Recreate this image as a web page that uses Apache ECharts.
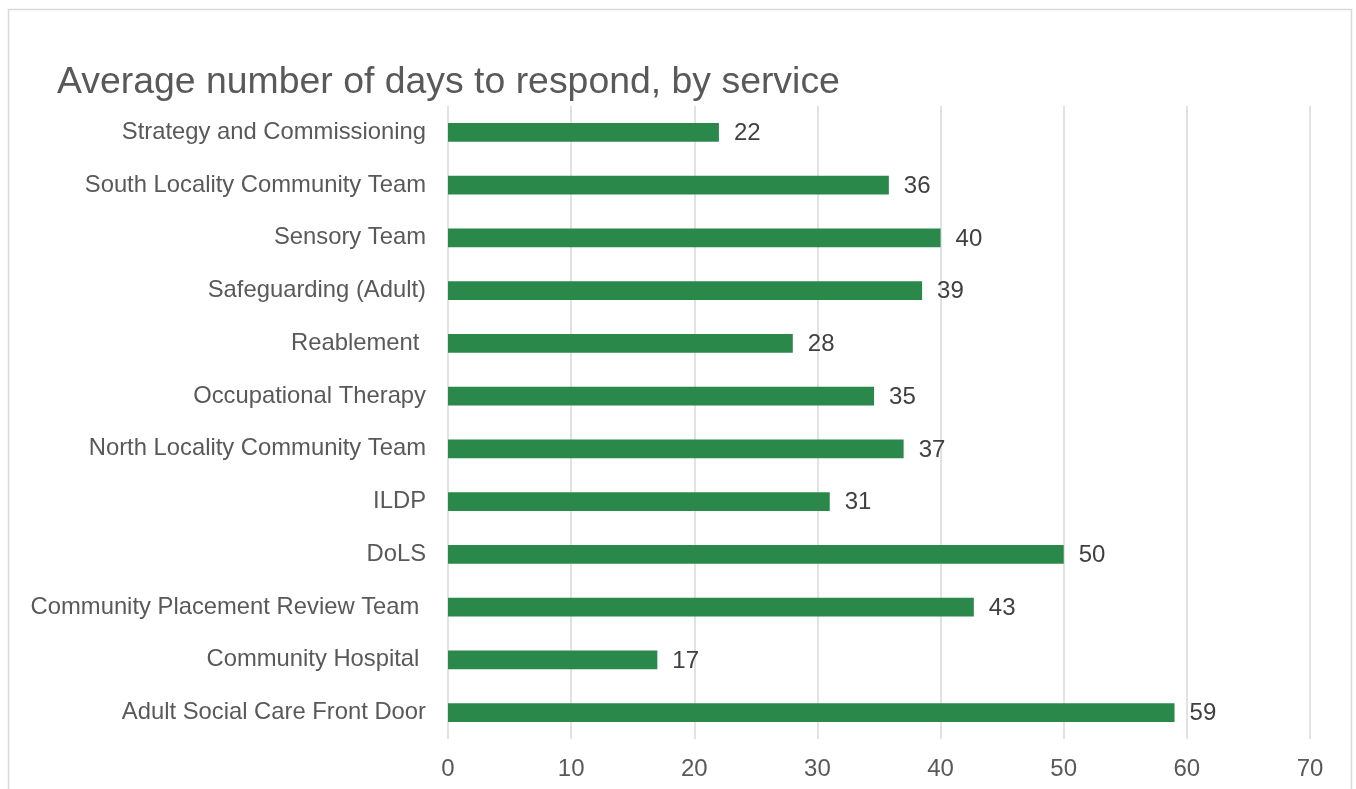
<!DOCTYPE html>
<html>
<head>
<meta charset="utf-8">
<script src="https://cdn.jsdelivr.net/npm/echarts@6/dist/echarts.min.js"></script>
<style>
  html, body { margin: 0; padding: 0; background: #ffffff; }
  #chart { width: 1356px; height: 789px; }
</style>
</head>
<body>
<div id="chart"></div>
<script>
// Services, listed bottom-to-top as the category axis draws them
const services = [
  'Adult Social Care Front Door',
  'Community Hospital ',
  'Community Placement Review Team ',
  'DoLS',
  'ILDP',
  'North Locality Community Team',
  'Occupational Therapy',
  'Reablement ',
  'Safeguarding (Adult)',
  'Sensory Team',
  'South Locality Community Team',
  'Strategy and Commissioning'
];

// Average number of days to respond for each service
const avgDays = [59.0, 17.0, 42.7, 50.0, 31.0, 37.0, 34.6, 28.0, 38.5, 40.0, 35.8, 22.0];

// Value axis ticks
const axisMin = 0;
const axisMax = 70;
const axisStep = 10;

const FONT = '"Liberation Sans", Arial, sans-serif';

const chart = echarts.init(document.getElementById('chart'), null, { renderer: 'canvas' });

chart.setOption({
  animation: false,
  backgroundColor: '#ffffff',
  graphic: [{
    type: 'rect',
    shape: { x: 8.5, y: 9.5, width: 1343, height: 800 },
    style: { fill: 'none', stroke: '#d9d9d9', lineWidth: 1.5 },
    silent: true,
    z: -1
  }],
  title: {
    text: 'Average number of days to respond, by service',
    left: 52,
    top: 59,
    textStyle: {
      fontFamily: FONT,
      fontSize: 37.4,
      fontWeight: 'normal',
      color: '#595959'
    }
  },
  grid: {
    left: 448,
    right: 46,
    top: 106,
    bottom: 50,
    containLabel: false
  },
  xAxis: {
    type: 'value',
    min: axisMin,
    max: axisMax,
    interval: axisStep,
    axisLine: { show: false },
    axisTick: { show: false },
    splitLine: { show: true, lineStyle: { color: '#d9d9d9', width: 1.5 } },
    axisLabel: {
      margin: 18,
      fontFamily: FONT,
      fontSize: 24,
      color: '#595959'
    }
  },
  yAxis: {
    type: 'category',
    data: services,
    axisLine: { show: false },
    axisTick: { show: false },
    splitLine: { show: false },
    axisLabel: {
      margin: 22,
      fontFamily: FONT,
      fontSize: 23.8,
      color: '#595959',
      padding: [2, 0, 0, 0]
    }
  },
  series: [{
    type: 'bar',
    data: avgDays,
    barWidth: '36%',
    itemStyle: { color: '#29884a' },
    label: {
      show: true,
      position: 'right',
      distance: 15,
      offset: [0, 1],
      fontFamily: FONT,
      fontSize: 24,
      color: '#404040',
      formatter: p => Math.round(p.value)
    }
  }]
});
</script>
</body>
</html>
